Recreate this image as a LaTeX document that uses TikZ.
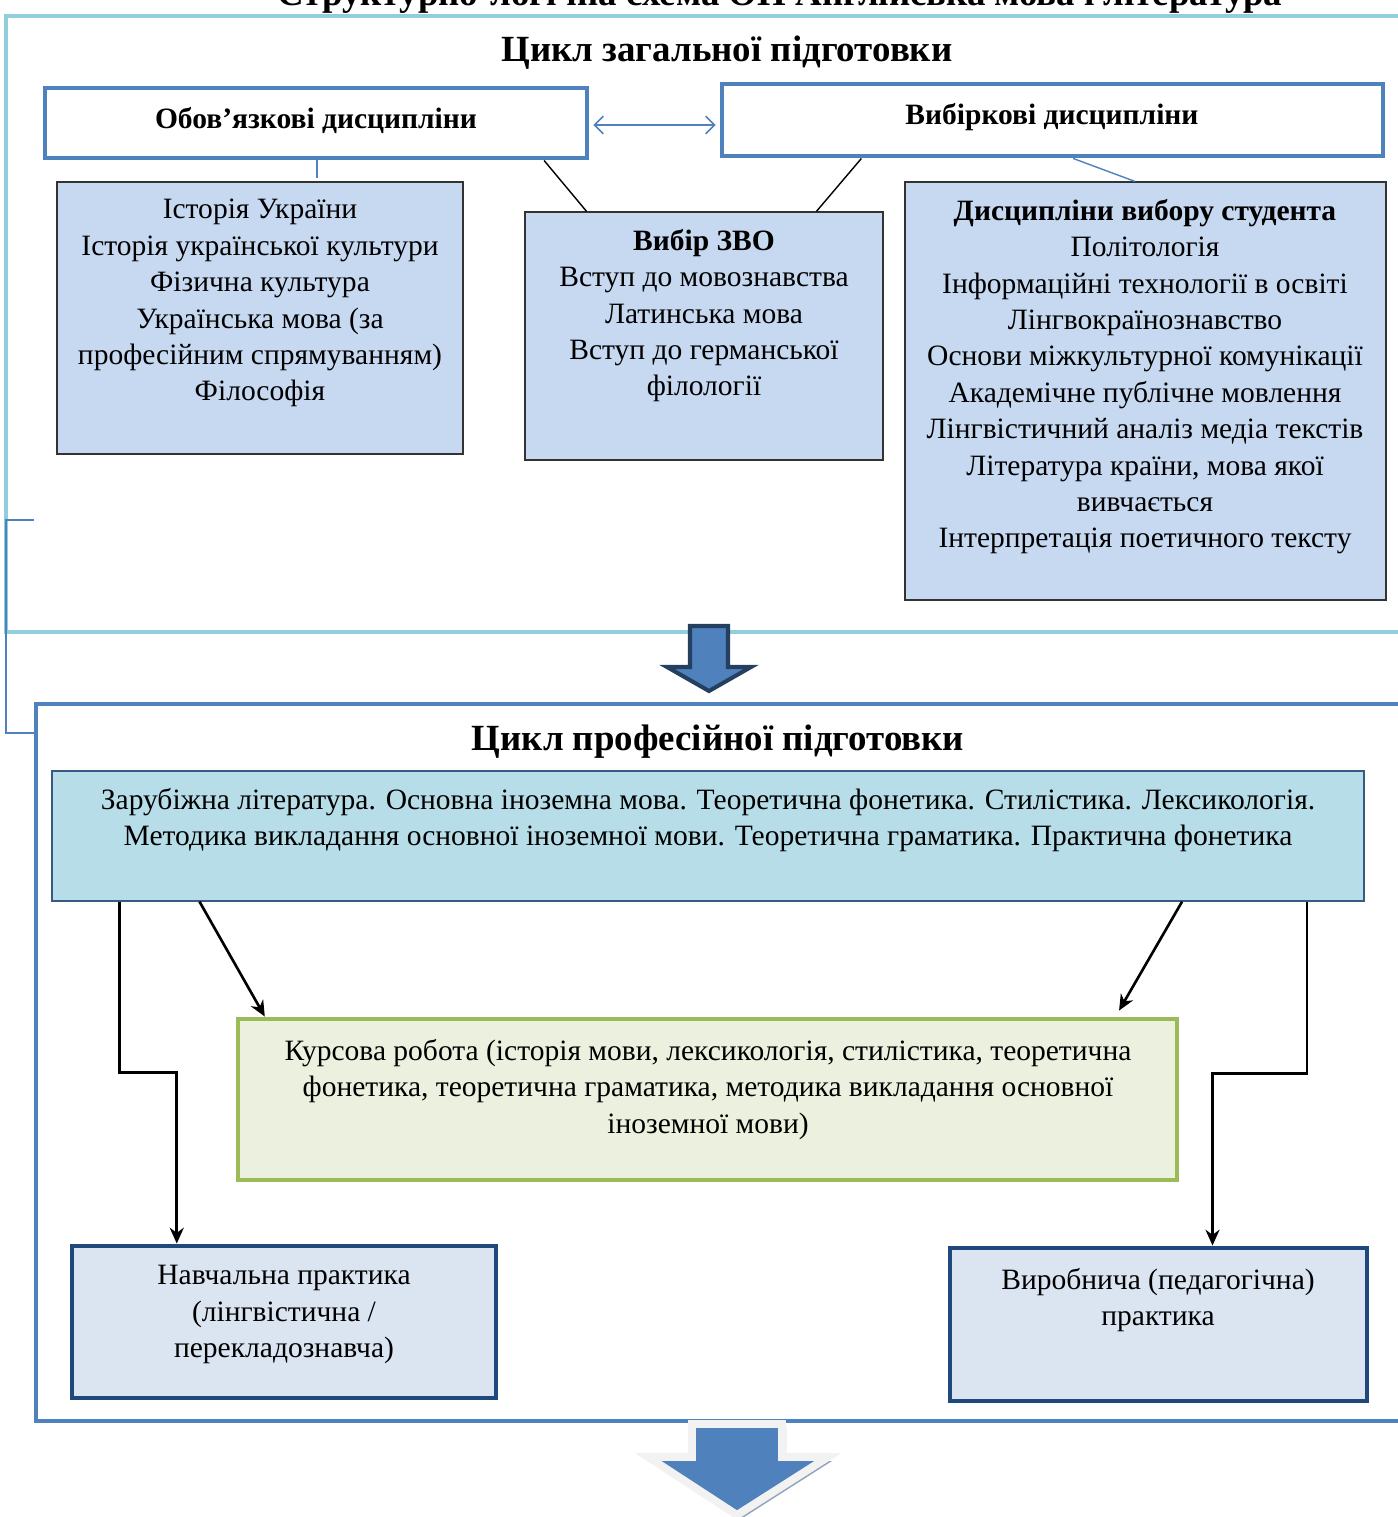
\documentclass[tikz,border=0pt]{standalone}
\usepackage{fontspec}
\setmainfont{Liberation Serif}
\usetikzlibrary{arrows.meta,calc,fit}
\definecolor{frameA}{HTML}{92CDDC}
\definecolor{frameB}{HTML}{4F81BD}
\definecolor{boxblue}{HTML}{C6D9F1}
\definecolor{boxcyan}{HTML}{B7DDE8}
\definecolor{greenfill}{HTML}{EBF1DE}
\definecolor{greenline}{HTML}{9BBB59}
\definecolor{palefill}{HTML}{DBE5F1}
\definecolor{darkline}{HTML}{1F497D}
\definecolor{arrowline}{HTML}{243F60}
\definecolor{shadowc}{HTML}{8FA3BB}
\definecolor{lightw}{HTML}{F2F2F2}
\tikzset{
  body/.style={font=\fontsize{16.8}{20.7}\selectfont, align=center, inner sep=0pt},
  head/.style={font=\fontsize{21}{25}\selectfont\bfseries, inner sep=0pt},
  whitebox/.style={draw=frameB, line width=2.8pt, fill=white, inner sep=0pt},
  listbox/.style={draw=black!80, line width=0.7pt, fill=boxblue, inner sep=0pt},
  cyanbox/.style={draw=frameB!70!black, line width=0.7pt, fill=boxcyan, inner sep=0pt},
  greenbox/.style={draw=greenline, line width=2.8pt, fill=greenfill, inner sep=0pt},
  pracbox/.style={draw=darkline, line width=2.8pt, fill=palefill, inner sep=0pt},
  link/.style={line width=0.8pt},
  bluelink/.style={draw=frameB, line width=0.8pt},
  flow/.style={line width=1.5pt, -{Stealth[length=9pt,width=8pt]}},
}
\begin{document}
\begin{tikzpicture}[x=0.02cm,y=-0.02cm]
\useasboundingbox (0,0) rectangle (1397,1517);

% cut-off title (cropped at the top edge, as in the reference)
\node[head, anchor=base] (title) at (780,6) {Структурно-логічна схема ОП Англійська мова і література};

% frames
\draw[frameA, line width=2.8pt] (1400,16) -- (6,16) -- (6,632) -- (1400,632);
\draw[frameB, line width=2.8pt] (1400,704) -- (36,704) -- (36,1421) -- (1400,1421);
\draw[frameB, line width=0.9pt] (34,520) -- (6,520) -- (6,733) -- (34,733);

% headings
\node[head] (h1) at (727,53) {Цикл загальної підготовки};
\node[head] (h2) at (718,742) {Цикл професійної підготовки};

% top boxes
\node[whitebox, fit={(45,88) (587,158)}] (ob) {};
\node[body, font=\fontsize{16.8}{20.7}\selectfont\bfseries] (obt) at (316,121) {Обов’язкові дисципліни};
\node[whitebox, fit={(722,84) (1383,156)}] (vb) {};
\node[body, font=\fontsize{16.8}{20.7}\selectfont\bfseries] (vbt) at (1052,117) {Вибіркові дисципліни};

\coordinate (dl) at ($(ob.east)+(4,2)$);
\coordinate (dr) at ($(vb.west)+(-4,0)$);
\draw[frameB, line width=0.9pt, {Straight Barb[length=5pt,width=10pt]}-{Straight Barb[length=5pt,width=10pt]}] (dl) -- (dl -| dr);

% list boxes
\node[listbox, fit={(57,182) (463,454)}] (b1) {};
\node[body, anchor=north] (b1t) at (260,199) {Історія України\\Історія української культури\\Фізична культура\\Українська мова (за\\професійним спрямуванням)\\Філософія};

\node[listbox, fit={(525,212) (883,460)}] (b2) {};
\node[body, anchor=north] (b2t) at (704,229) {\textbf{Вибір ЗВО}\\Вступ до мовознавства\\Латинська мова\\Вступ до германської\\філології};

\node[listbox, fit={(905,182) (1386,600)}] (b3) {};
\node[body, anchor=north] (b3t) at (1145,199) {\textbf{Дисципліни вибору студента}\\Політологія\\Інформаційні технології в освіті\\Лінгвокраїнознавство\\Основи міжкультурної комунікації\\Академічне публічне мовлення\\Лінгвістичний аналіз медіа текстів\\Література країни, мова якої\\вивчається\\Інтерпретація поетичного тексту};

% top connectors
\coordinate (obdrop) at ($(ob.south west)!0.502!(ob.south east)+(0,18)$);
\draw[bluelink] ($(ob.south west)!0.502!(ob.south east)$) -- (obdrop);
\draw[link] ($(ob.south west)!0.917!(ob.south east)$) -- ($(b2.north west)!0.173!(b2.north east)$);
\draw[link] ($(vb.south west)!0.213!(vb.south east)$) -- ($(b2.north west)!0.813!(b2.north east)$);
\draw[bluelink] ($(vb.south west)!0.531!(vb.south east)$) -- ($(b3.north west)!0.478!(b3.north east)$);

% top block arrow
\filldraw[fill=frameB, draw=arrowline, line width=2.3pt, line join=miter]
  (690,626) -- (728,626) -- (728,667) -- (751,667) -- (709,691) -- (667,667) -- (690,667) -- cycle;

% professional cycle boxes
\node[cyanbox, fit={(52,771) (1364,901)}] (b4) {};
\node[body, anchor=north] (b4t) at (708,788) {Зарубіжна література. Основна іноземна мова. Теоретична фонетика. Стилістика. Лексикологія.\\Методика викладання основної іноземної мови. Теоретична граматика. Практична фонетика};

\node[greenbox, fit={(238,1019) (1177,1180)}] (b5) {};
\node[body, anchor=north] (b5t) at (708,1039) {Курсова робота (історія мови, лексикологія, стилістика, теоретична\\фонетика, теоретична граматика, методика викладання основної\\іноземної мови)};

\node[pracbox, fit={(72,1246) (496,1398)}] (b6) {};
\node[body, anchor=north] (b6t) at (284,1265) {Навчальна практика\\(лінгвістична /\\перекладознавча)};

\node[pracbox, fit={(950,1248) (1367,1401)}] (b7) {};
\node[body, anchor=north] (b7t) at (1158,1268) {Виробнича (педагогічна)\\практика};

% flows
\draw[flow] ($(b4.south west)!0.1128!(b4.south east)$) -- ($(b5.north west)!0.031!(b5.north east)$);
\draw[flow] ($(b4.south west)!0.861!(b4.south east)$) -- ($(b5.north west)!0.936!(b5.north east)+(0,-6)$);
\coordinate (lA) at ($(b4.south west)!0.0518!(b4.south east)$);
\coordinate (lB) at ($(b6.north west)!0.25!(b6.north east)$);
\draw[flow] (lA) |- ($(lA)!0.5!(lB)$) -| (lB);
\coordinate (rA) at ($(b4.south west)!0.956!(b4.south east)$);
\coordinate (rB) at ($(b7.north west)!0.628!(b7.north east)$);
\draw[flow] (rA) |- ($(rA)!0.5!(rB)$) -| (rB);

% bottom block arrow
\fill[shadowc] (696,1428) -- (786,1428) -- (786,1461) -- (832,1461) -- (741,1519) -- (652,1461) -- (696,1461) -- cycle;
\filldraw[fill=frameB, draw=lightw, line width=4.5pt, line join=miter]
  (692,1424) -- (782,1424) -- (782,1457) -- (828,1457) -- (737,1515) -- (648,1457) -- (692,1457) -- cycle;
\end{tikzpicture}
\end{document}
